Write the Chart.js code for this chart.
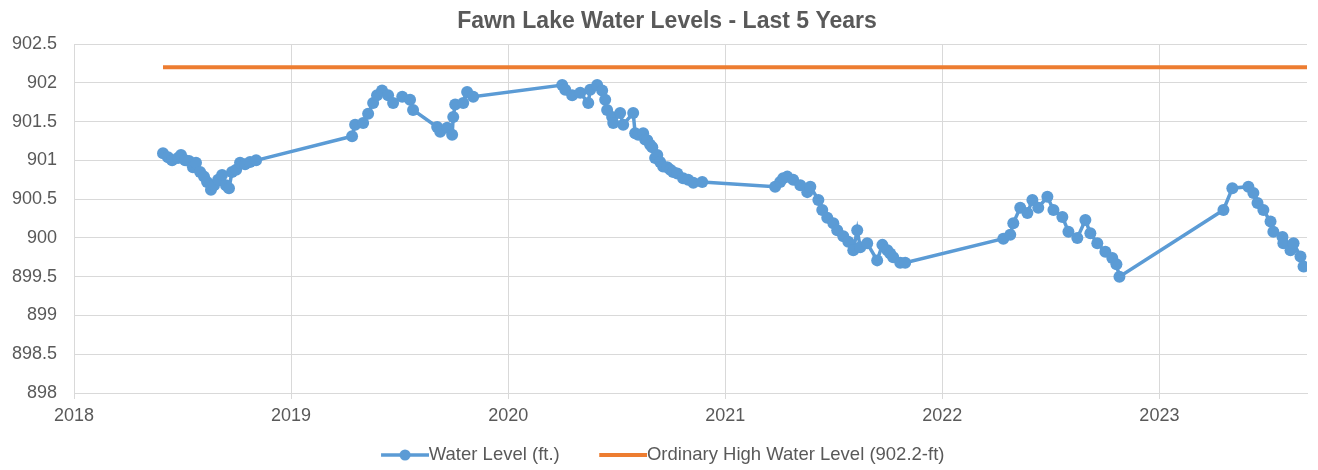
<!DOCTYPE html>
<html>
<head>
<meta charset="utf-8">
<script src="https://cdn.jsdelivr.net/npm/chart.js@4/dist/chart.umd.min.js"></script>
<style>
  html, body { margin: 0; padding: 0; background: #ffffff; }
  #wrap { width: 1318px; height: 470px; }
</style>
</head>
<body>
<div id="wrap"><canvas id="c" width="1318" height="470"></canvas></div>
<script>
// ---- Data ----
const chartTitle = "Fawn Lake Water Levels - Last 5 Years";
const seriesNames = ["Water Level (ft.)", "Ordinary High Water Level (902.2-ft)"];

// Decimal year of each reading
const years = [
  2018.41, 2018.433, 2018.452, 2018.479, 2018.493, 2018.512, 2018.530, 2018.548, 2018.562, 2018.581,
  2018.599, 2018.613, 2018.631, 2018.645, 2018.664, 2018.682, 2018.700, 2018.714, 2018.728, 2018.747,
  2018.765, 2018.788, 2018.811, 2018.839,
  2019.281, 2019.295, 2019.332, 2019.355, 2019.378, 2019.396, 2019.419, 2019.447, 2019.470, 2019.512,
  2019.548, 2019.562, 2019.673, 2019.687, 2019.719, 2019.742, 2019.747, 2019.756, 2019.793, 2019.811,
  2019.839,
  2020.249, 2020.263, 2020.295, 2020.332, 2020.369, 2020.378, 2020.410, 2020.433, 2020.447, 2020.456,
  2020.479, 2020.484, 2020.516, 2020.530, 2020.576, 2020.585, 2020.599, 2020.622, 2020.631, 2020.641,
  2020.654, 2020.664, 2020.677, 2020.687, 2020.700, 2020.714, 2020.733, 2020.747, 2020.760, 2020.779,
  2020.806, 2020.829, 2020.853, 2020.894,
  2021.230, 2021.253, 2021.267, 2021.286, 2021.313, 2021.346, 2021.378, 2021.392, 2021.429, 2021.447,
  2021.470, 2021.498, 2021.516, 2021.544, 2021.567, 2021.590, 2021.608, 2021.622, 2021.654, 2021.700,
  2021.724, 2021.747, 2021.760, 2021.774, 2021.806, 2021.829,
  2022.281, 2022.313, 2022.327, 2022.359, 2022.392, 2022.415, 2022.442, 2022.484, 2022.512, 2022.553,
  2022.581, 2022.622, 2022.659, 2022.682, 2022.714, 2022.751, 2022.783, 2022.802, 2022.816,
  2023.295, 2023.336, 2023.410, 2023.433, 2023.452, 2023.479, 2023.512, 2023.525, 2023.567, 2023.571,
  2023.604, 2023.618, 2023.650, 2023.664
];
// Water level (ft.) of each reading
const levels = [
  901.09, 901.04, 901.00, 901.03, 901.07, 901.00, 900.99, 900.91, 900.97, 900.85,
  900.79, 900.72, 900.62, 900.68, 900.75, 900.81, 900.68, 900.64, 900.85, 900.88,
  900.97, 900.95, 900.98, 901.00,
  901.31, 901.46, 901.48, 901.60, 901.74, 901.84, 901.90, 901.84, 901.74, 901.82,
  901.78, 901.65, 901.43, 901.37, 901.42, 901.33, 901.56, 901.72, 901.74, 901.88,
  901.82,
  901.97, 901.91, 901.84, 901.87, 901.74, 901.91, 901.97, 901.90, 901.78, 901.65,
  901.56, 901.48, 901.61, 901.46, 901.61, 901.35, 901.33, 901.35, 901.27, 901.26,
  901.20, 901.17, 901.03, 901.07, 900.98, 900.92, 900.91, 900.88, 900.85, 900.83,
  900.77, 900.75, 900.71, 900.72,
  900.66, 900.72, 900.77, 900.79, 900.75, 900.68, 900.59, 900.66, 900.49, 900.36,
  900.26, 900.19, 900.10, 900.02, 899.95, 899.84, 900.10, 899.88, 899.93, 899.71,
  899.91, 899.84, 899.80, 899.75, 899.68, 899.68,
  899.99, 900.04, 900.19, 900.39, 900.32, 900.49, 900.39, 900.53, 900.36, 900.27,
  900.08, 900.00, 900.23, 900.06, 899.93, 899.82, 899.74, 899.66, 899.50,
  900.36, 900.64, 900.66, 900.58, 900.45, 900.36, 900.21, 900.08, 900.01, 899.93,
  899.84, 899.93, 899.76, 899.63
];

// Ordinary high water level line
const ohwYears = [2018.41, 2023.68];
const ohwLevel = 902.2;

// Axis ticks
const xTickYears = [2018, 2019, 2020, 2021, 2022, 2023];
const yTickValues = [898, 898.5, 899, 899.5, 900, 900.5, 901, 901.5, 902, 902.5];
const xMin = 2018, xMax = 2023.68;
const yMin = 898, yMax = 902.5;

// ---- Styles ----
const BLUE = '#5B9BD5';
const ORANGE = '#ED7D31';
const TEXT = '#595959';
const GRID = '#D9D9D9';
const FONT = "'Liberation Sans', Arial, sans-serif";

// Legend icons (line with marker / plain line)
function makeIcon(color, withDot, lw) {
  const c = document.createElement('canvas');
  c.width = 76; c.height = 14;
  const g = c.getContext('2d');
  g.strokeStyle = color; g.lineWidth = lw; g.lineCap = 'butt';
  g.beginPath(); g.moveTo(28, 7); g.lineTo(76, 7); g.stroke();
  if (withDot) {
    g.fillStyle = color; g.beginPath(); g.arc(52, 7, 5.5, 0, Math.PI * 2); g.fill();
  }
  return c;
}
const blueIcon = makeIcon(BLUE, true, 3.5);
const orangeIcon = makeIcon(ORANGE, false, 4);

const waterData = years.map((x, i) => ({ x: x, y: levels[i] }));
const ohwData = ohwYears.map(x => ({ x: x, y: ohwLevel }));

// Centre the title as in the reference (slightly right of the canvas centre)
const titleShift = {
  id: 'titleShift',
  afterLayout(chart) {
    const t = chart.titleBlock;
    if (t) { t.left += 13.5; t.right += 13.5; }
  }
};

new Chart(document.getElementById('c'), {
  type: 'line',
  data: {
    datasets: [
      {
        label: seriesNames[0],
        data: waterData,
        borderColor: BLUE,
        backgroundColor: BLUE,
        borderWidth: 3.5,
        pointRadius: 6,
        pointBorderWidth: 0,
        pointBackgroundColor: BLUE,
        tension: 0,
        fill: false
      },
      {
        label: seriesNames[1],
        data: ohwData,
        borderColor: ORANGE,
        backgroundColor: ORANGE,
        borderWidth: 4,
        pointRadius: 0,
        tension: 0,
        fill: false
      }
    ]
  },
  plugins: [titleShift],
  options: {
    responsive: false,
    animation: false,
    layout: { padding: { left: 0, right: 11, top: 0, bottom: -4.25 } },
    plugins: {
      title: {
        display: true,
        text: chartTitle,
        color: TEXT,
        font: { family: FONT, size: 23, weight: 'bold' },
        padding: { top: 8, bottom: 8.4 }
      },
      legend: {
        display: true,
        position: 'bottom',
        labels: {
          color: TEXT,
          font: { family: FONT, size: 18.5 },
          usePointStyle: true,
          pointStyleWidth: 57,
          padding: 21,
          generateLabels: (chart) => {
            const items = Chart.defaults.plugins.legend.labels.generateLabels(chart);
            items[0].pointStyle = blueIcon;
            items[1].pointStyle = orangeIcon;
            return items;
          }
        }
      },
      tooltip: { enabled: false }
    },
    scales: {
      x: {
        type: 'linear',
        min: xMin,
        max: xMax,
        afterBuildTicks: (scale) => { scale.ticks = xTickYears.map(v => ({ value: v })); },
        afterFit: (scale) => { scale.height = 31.75; },
        ticks: {
          color: TEXT,
          font: { family: FONT, size: 18 },
          padding: 6,
          maxRotation: 0,
          autoSkip: false,
          callback: (v) => String(v)
        },
        grid: { color: GRID, lineWidth: 1, drawTicks: true, tickLength: 6, tickColor: GRID },
        border: { color: GRID, width: 1 }
      },
      y: {
        type: 'linear',
        min: yMin,
        max: yMax,
        afterBuildTicks: (scale) => { scale.ticks = yTickValues.map(v => ({ value: v })); },
        afterFit: (scale) => { scale.width = 74; },
        ticks: {
          color: TEXT,
          font: { family: FONT, size: 18 },
          padding: 17,
          autoSkip: false,
          callback: (v) => String(v)
        },
        grid: { color: GRID, lineWidth: 1, drawTicks: false },
        border: { color: GRID, width: 1 }
      }
    }
  }
});
</script>
</body>
</html>
